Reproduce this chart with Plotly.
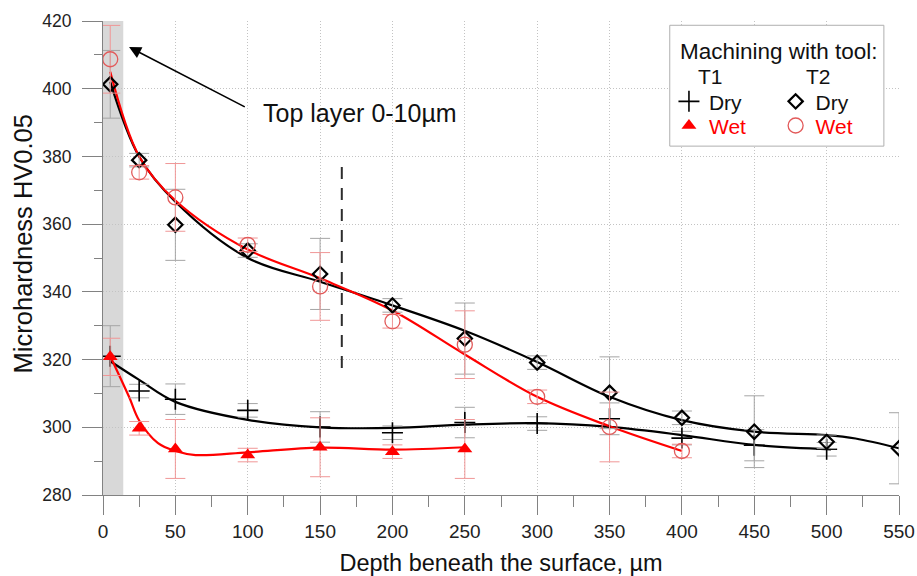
import plotly.graph_objects as go

# ---------------- data ----------------
depth_t1 = [5, 25, 50, 100, 150, 200, 250, 300, 350, 400, 450, 500]
t1_dry = [321, 310.7, 308.3, 305, 300.1, 298.4, 301.4, 301.1, 302.5, 296.8, 294.7, 293.5]
t1_dry_err = [9, 2, 4.5, 2, 4.5, 2, 4.5, 2, 4.7, 2, 4.6, 2]

depth_t1_wet = [5, 25, 50, 100, 150, 200, 250]
t1_wet = [320.8, 299.7, 293.6, 291.8, 294.1, 292.8, 293.6]
t1_wet_err = [5.5, 2, 8.7, 2, 8.7, 2, 8.7]

depth_t2 = [5, 25, 50, 100, 150, 200, 250, 300, 350, 400, 450, 500, 550]
t2_dry = [401.3, 378.9, 359.8, 352.2, 345.3, 336, 326.2, 319.1, 310.2, 302.8, 298.7, 295.7, 293.8]
t2_dry_err = [10, 2, 10.5, 2, 10.5, 2, 10.5, 2, 10.6, 2, 10.6, 2, 10.5]

depth_t2_wet = [5, 25, 50, 100, 150, 200, 250, 300, 350, 400]
t2_wet = [408.7, 375.3, 367.9, 353.9, 341.6, 331.3, 324.4, 309, 300.1, 293]
t2_wet_err = [10, 2, 10, 2, 10, 2, 10, 2, 10.3, 2]

# fitted trend curves
fit_t1_dry_x = [5, 25, 50, 100, 150, 200, 250, 300, 350, 400, 450, 503]
fit_t1_dry_y = [319.5, 314, 307.5, 302.2, 300, 299.8, 300.8, 301.2, 300.1, 297.7, 294.8, 293.5]

fit_t1_wet_x = [5, 18, 25, 38, 50, 64, 100, 150, 200, 250]
fit_t1_wet_y = [321, 309, 302, 295.3, 293, 291.8, 292.6, 294, 293.4, 294.1]

fit_t2_dry_x = [5, 25, 50, 100, 150, 200, 250, 300, 350, 400, 450, 500, 520, 550]
fit_t2_dry_y = [402, 379.9, 366.6, 350, 343, 336, 328.5, 319.3, 309, 302.1, 298.7, 297.7, 296.7, 293.8]

fit_t2_wet_x = [5, 25, 50, 100, 150, 200, 250, 300, 350, 400]
fit_t2_wet_y = [405, 380, 367, 352.5, 344, 334.5, 321.5, 309, 300.3, 293]

x_ticks = [0, 50, 100, 150, 200, 250, 300, 350, 400, 450, 500, 550]
y_ticks = [280, 300, 320, 340, 360, 380, 400, 420]

top_layer = (0, 14)          # shaded top-layer band, µm
boundary_depth = 165         # dashed marker line
boundary_span = (317.5, 378)
arrow_head = (18, 412.3)
arrow_tail = (99, 394.4)
label_pos = (109, 392.7)

# ---------------- styling ----------------
FONT = "Liberation Sans, Arial, sans-serif"
BLACK = "#000000"
RED = "#ff0000"
CIRCLE_RED = "rgb(226,90,90)"
DRY_ERR = "rgb(165,165,165)"
WET_ERR = "rgb(240,150,150)"
GRID = "rgb(195,195,195)"
AXIS = "rgb(130,130,130)"

fig = go.Figure()

# trend curves
for xs, ys, col in [(fit_t1_dry_x, fit_t1_dry_y, BLACK),
                    (fit_t1_wet_x, fit_t1_wet_y, RED),
                    (fit_t2_dry_x, fit_t2_dry_y, BLACK),
                    (fit_t2_wet_x, fit_t2_wet_y, RED)]:
    fig.add_trace(go.Scatter(x=xs, y=ys, mode="lines",
                             line=dict(color=col, width=2.2, shape="spline", smoothing=1.0),
                             showlegend=False, hoverinfo="skip"))

def err(arr, col):
    return dict(type="data", array=arr, color=col, thickness=1, width=10, visible=True)

fig.add_trace(go.Scatter(x=depth_t1, y=t1_dry, mode="markers", name="Dry",
                         marker=dict(symbol="cross-thin-open", size=15, color=BLACK,
                                     line=dict(color=BLACK, width=1.6)),
                         error_y=err(t1_dry_err, DRY_ERR), legend="legend"))
fig.add_trace(go.Scatter(x=depth_t1_wet, y=t1_wet, mode="markers",
                         name="<span style='color:#ff0000'>Wet</span>",
                         marker=dict(symbol="triangle-up", size=13, color=RED),
                         error_y=err(t1_wet_err, WET_ERR), legend="legend3"))
fig.add_trace(go.Scatter(x=depth_t2, y=t2_dry, mode="markers", name="Dry",
                         marker=dict(symbol="diamond-open", size=11, color=BLACK,
                                     line=dict(color=BLACK, width=2.2)),
                         error_y=err(t2_dry_err, DRY_ERR), legend="legend2"))
fig.add_trace(go.Scatter(x=depth_t2_wet, y=t2_wet, mode="markers",
                         name="<span style='color:#ff0000'>Wet</span>",
                         marker=dict(symbol="circle-open", size=15, color=CIRCLE_RED,
                                     line=dict(color=CIRCLE_RED, width=1.3)),
                         error_y=err(t2_wet_err, WET_ERR), legend="legend4"))

shapes = [
    dict(type="rect", xref="x", yref="y", x0=top_layer[0], x1=top_layer[1],
         y0=y_ticks[0], y1=y_ticks[-1], fillcolor="rgb(216,216,216)",
         line=dict(width=0), layer="below"),
    dict(type="line", xref="x", yref="y", x0=boundary_depth, x1=boundary_depth,
         y0=boundary_span[0], y1=boundary_span[1],
         line=dict(color="rgb(45,45,45)", width=2, dash="12px,9px")),
    dict(type="rect", xref="paper", yref="paper", x0=0.712, x1=0.981, y0=0.736, y1=0.991,
         fillcolor="white", line=dict(color="rgb(175,175,175)", width=1), layer="above"),
]

annotations = [
    dict(x=arrow_head[0], y=arrow_head[1], ax=arrow_tail[0], ay=arrow_tail[1],
         xref="x", yref="y", axref="x", ayref="y", text="", showarrow=True,
         arrowhead=2, arrowsize=1.5, arrowwidth=1.6, arrowcolor=BLACK,
         standoff=0, startstandoff=0),
    dict(x=label_pos[0], y=label_pos[1], xref="x", yref="y", text="Top layer 0-10µm",
         showarrow=False, xanchor="left", yanchor="middle",
         font=dict(family=FONT, size=25, color="#111")),
    dict(x=0.849, y=0.9347, xref="paper", yref="paper", text="Machining with tool:",
         showarrow=False, xanchor="center", yanchor="middle",
         font=dict(family=FONT, size=22.5, color="#111")),
    dict(x=0.7633, y=0.882, xref="paper", yref="paper", text="T1",
         showarrow=False, xanchor="center", yanchor="middle",
         font=dict(family=FONT, size=21, color="#111")),
    dict(x=0.899, y=0.882, xref="paper", yref="paper", text="T2",
         showarrow=False, xanchor="center", yanchor="middle",
         font=dict(family=FONT, size=21, color="#111")),
    # y-axis title
    dict(x=-0.101, y=0.53, xref="paper", yref="paper", text="Microhardness HV0.05",
         textangle=-90, showarrow=False, xanchor="center", yanchor="middle",
         font=dict(family=FONT, size=25.5, color="#111")),
]

leg_common = dict(bgcolor="rgba(0,0,0,0)", borderwidth=0, tracegroupgap=0,
                  itemwidth=30, font=dict(family=FONT, size=21, color="#111"),
                  xanchor="left", yanchor="top")

fig.update_layout(
    width=917, height=576,
    margin=dict(l=103, r=18, t=21, b=81),
    paper_bgcolor="white", plot_bgcolor="white",
    font=dict(family=FONT, color="#222"),
    shapes=shapes, annotations=annotations,
    legend=dict(x=0.711, y=0.873, **leg_common),
    legend2=dict(x=0.845, y=0.873, **leg_common),
    legend3=dict(x=0.711, y=0.822, **leg_common),
    legend4=dict(x=0.845, y=0.822, **leg_common),
    xaxis=dict(range=[0, 550], tickvals=x_ticks, showline=True, linecolor=AXIS, linewidth=1,
               ticks="outside", ticklen=19, tickcolor=AXIS, tickwidth=1, automargin=False,
               minor=dict(dtick=25, ticklen=11, tickcolor=AXIS, ticks="outside", showgrid=False),
               showgrid=True, gridcolor=GRID, griddash="1px,2px", gridwidth=1, zeroline=False,
               tickfont=dict(family=FONT, size=19, color="#222"),
               title=dict(text="Depth beneath the surface, µm", standoff=14,
                          font=dict(family=FONT, size=23.5, color="#111"))),
    yaxis=dict(range=[280, 420], tickvals=y_ticks, showline=True, linecolor=AXIS, linewidth=1,
               ticks="outside", ticklen=20, tickcolor=AXIS, tickwidth=1, automargin=False,
               ticklabelstandoff=7,
               minor=dict(dtick=10, ticklen=8, tickcolor=AXIS, ticks="outside", showgrid=False),
               showgrid=True, gridcolor=GRID, griddash="1px,2px", gridwidth=1, zeroline=False,
               tickfont=dict(family=FONT, size=17.5, color="#222")),
)

# remove the page's default 8px body margin so the figure fills the window exactly
fig.write_html("out.html", config={"displayModeBar": False},
               post_script="document.body.style.margin='0';document.body.style.overflow='hidden';")
